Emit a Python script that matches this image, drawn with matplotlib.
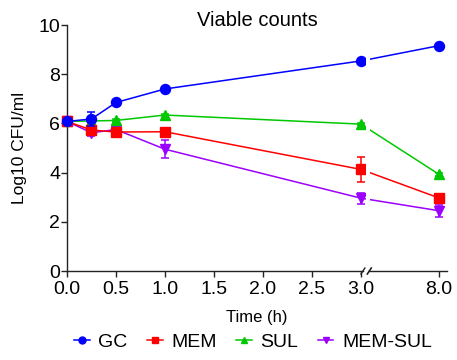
import matplotlib
matplotlib.use("Agg")
import matplotlib.pyplot as plt
from matplotlib.lines import Line2D

plt.rcParams['font.family'] = ['Liberation Sans', 'DejaVu Sans']

# ---- data ----
times = [0, 0.25, 0.5, 1.0, 3.0, 8.0]
gc = [6.08, 6.18, 6.85, 7.40, 8.54, 9.16]
gc_err = [0.05, 0.27, 0.05, 0.05, 0.05, 0.05]
mem = [6.08, 5.73, 5.65, 5.66, 4.13, 2.97]
mem_err = [0.05, 0.08, 0.05, 0.05, 0.50, 0.08]
sul = [6.08, 6.10, 6.12, 6.34, 5.97, 3.93]
sul_err = [0.05, 0.05, 0.05, 0.05, 0.05, 0.05]
memsul = [6.08, 5.62, 5.75, 4.95, 2.96, 2.45]
memsul_err = [0.05, 0.12, 0.05, 0.37, 0.22, 0.25]

tick_times = [0.0, 0.5, 1.0, 1.5, 2.0, 2.5, 3.0, 8.0]
tick_labels = ['0.0', '0.5', '1.0', '1.5', '2.0', '2.5', '3.0', '8.0']
series_names = ['GC', 'MEM', 'SUL', 'MEM-SUL']
colors = ['#0000FF', '#FF0000', '#00C800', '#9B00FF']
markers = ['o', 's', '^', 'v']


def tx(t):
    # broken axis: 0-3 linear, 3-8 compressed
    return t if t <= 3 else 3.0 + (t - 3.0) * (0.796 / 5.0)


fig = plt.figure(figsize=(4.57, 3.6), dpi=100)
ax = fig.add_axes([67 / 457, 89 / 360, 380 / 457, 246 / 360])

data = [(gc, gc_err), (mem, mem_err), (sul, sul_err), (memsul, memsul_err)]
zorders = [6, 5, 4, 3]
xs = [tx(t) for t in times]
for (vals, errs), c, m, nm, z in zip(data, colors, markers, series_names, zorders):
    ms = 7.2 if m == 'o' else (6.6 if m == 's' else 7.2)
    ax.errorbar(xs, vals, yerr=errs, color=c, marker=m, markersize=ms,
                lw=1.1, elinewidth=1.1, capsize=3.2, capthick=1.1,
                clip_on=False, zorder=z, label=nm)

# gap in lines at the axis break
ax.axvspan(3.055, 3.095, color='white', zorder=8, lw=0)

ax.set_xlim(0, 3.878)
ax.set_ylim(0, 10)
ax.set_yticks([0, 2, 4, 6, 8, 10])
ax.set_xticks([tx(t) for t in tick_times])
ax.set_xticklabels(tick_labels)
ax.tick_params(axis='both', labelsize=14, length=4, width=1.0, color='#222222')
ax.tick_params(axis='y', pad=1)
ax.tick_params(axis='x', pad=3)

for s in ['top', 'right', 'bottom']:
    ax.spines[s].set_visible(False)
ax.spines['left'].set_linewidth(1.0)
ax.spines['left'].set_color('#222222')

# broken x axis
trans = ax.get_xaxis_transform()
ax.plot([0, 3.02], [0, 0], color='#222222', lw=1.0, transform=trans, clip_on=False, zorder=9)
ax.plot([3.085, 3.878], [0, 0], color='#222222', lw=1.0, transform=trans, clip_on=False, zorder=9)
ax.plot([3.0, 3.04], [-0.012, 0.012], color='#222222', lw=1.0, transform=trans, clip_on=False, zorder=9)
ax.plot([3.065, 3.105], [-0.012, 0.012], color='#222222', lw=1.2, transform=trans, clip_on=False, zorder=9)

ax.set_xlabel('Time (h)', fontsize=12)
ax.xaxis.set_label_coords(0.5, -0.16)
ax.set_ylabel('Log10 CFU/ml', fontsize=12.5)
ax.yaxis.set_label_coords(-0.105, 0.5)

fig.text(257 / 457, (360 - 26) / 360, 'Viable counts', ha='center', va='baseline', fontsize=14.5)

handles = [Line2D([], [], color=c, marker=m, markersize=5, lw=1.1)
           for c, m in zip(colors, markers)]
fig.legend(handles, series_names, loc='center', bbox_to_anchor=(253 / 457, 18 / 360),
           ncol=4, frameon=False, fontsize=14, handlelength=0.8, handletextpad=0.45,
           columnspacing=1.0, borderaxespad=0, borderpad=0)

fig.savefig('out.png', dpi=100)
